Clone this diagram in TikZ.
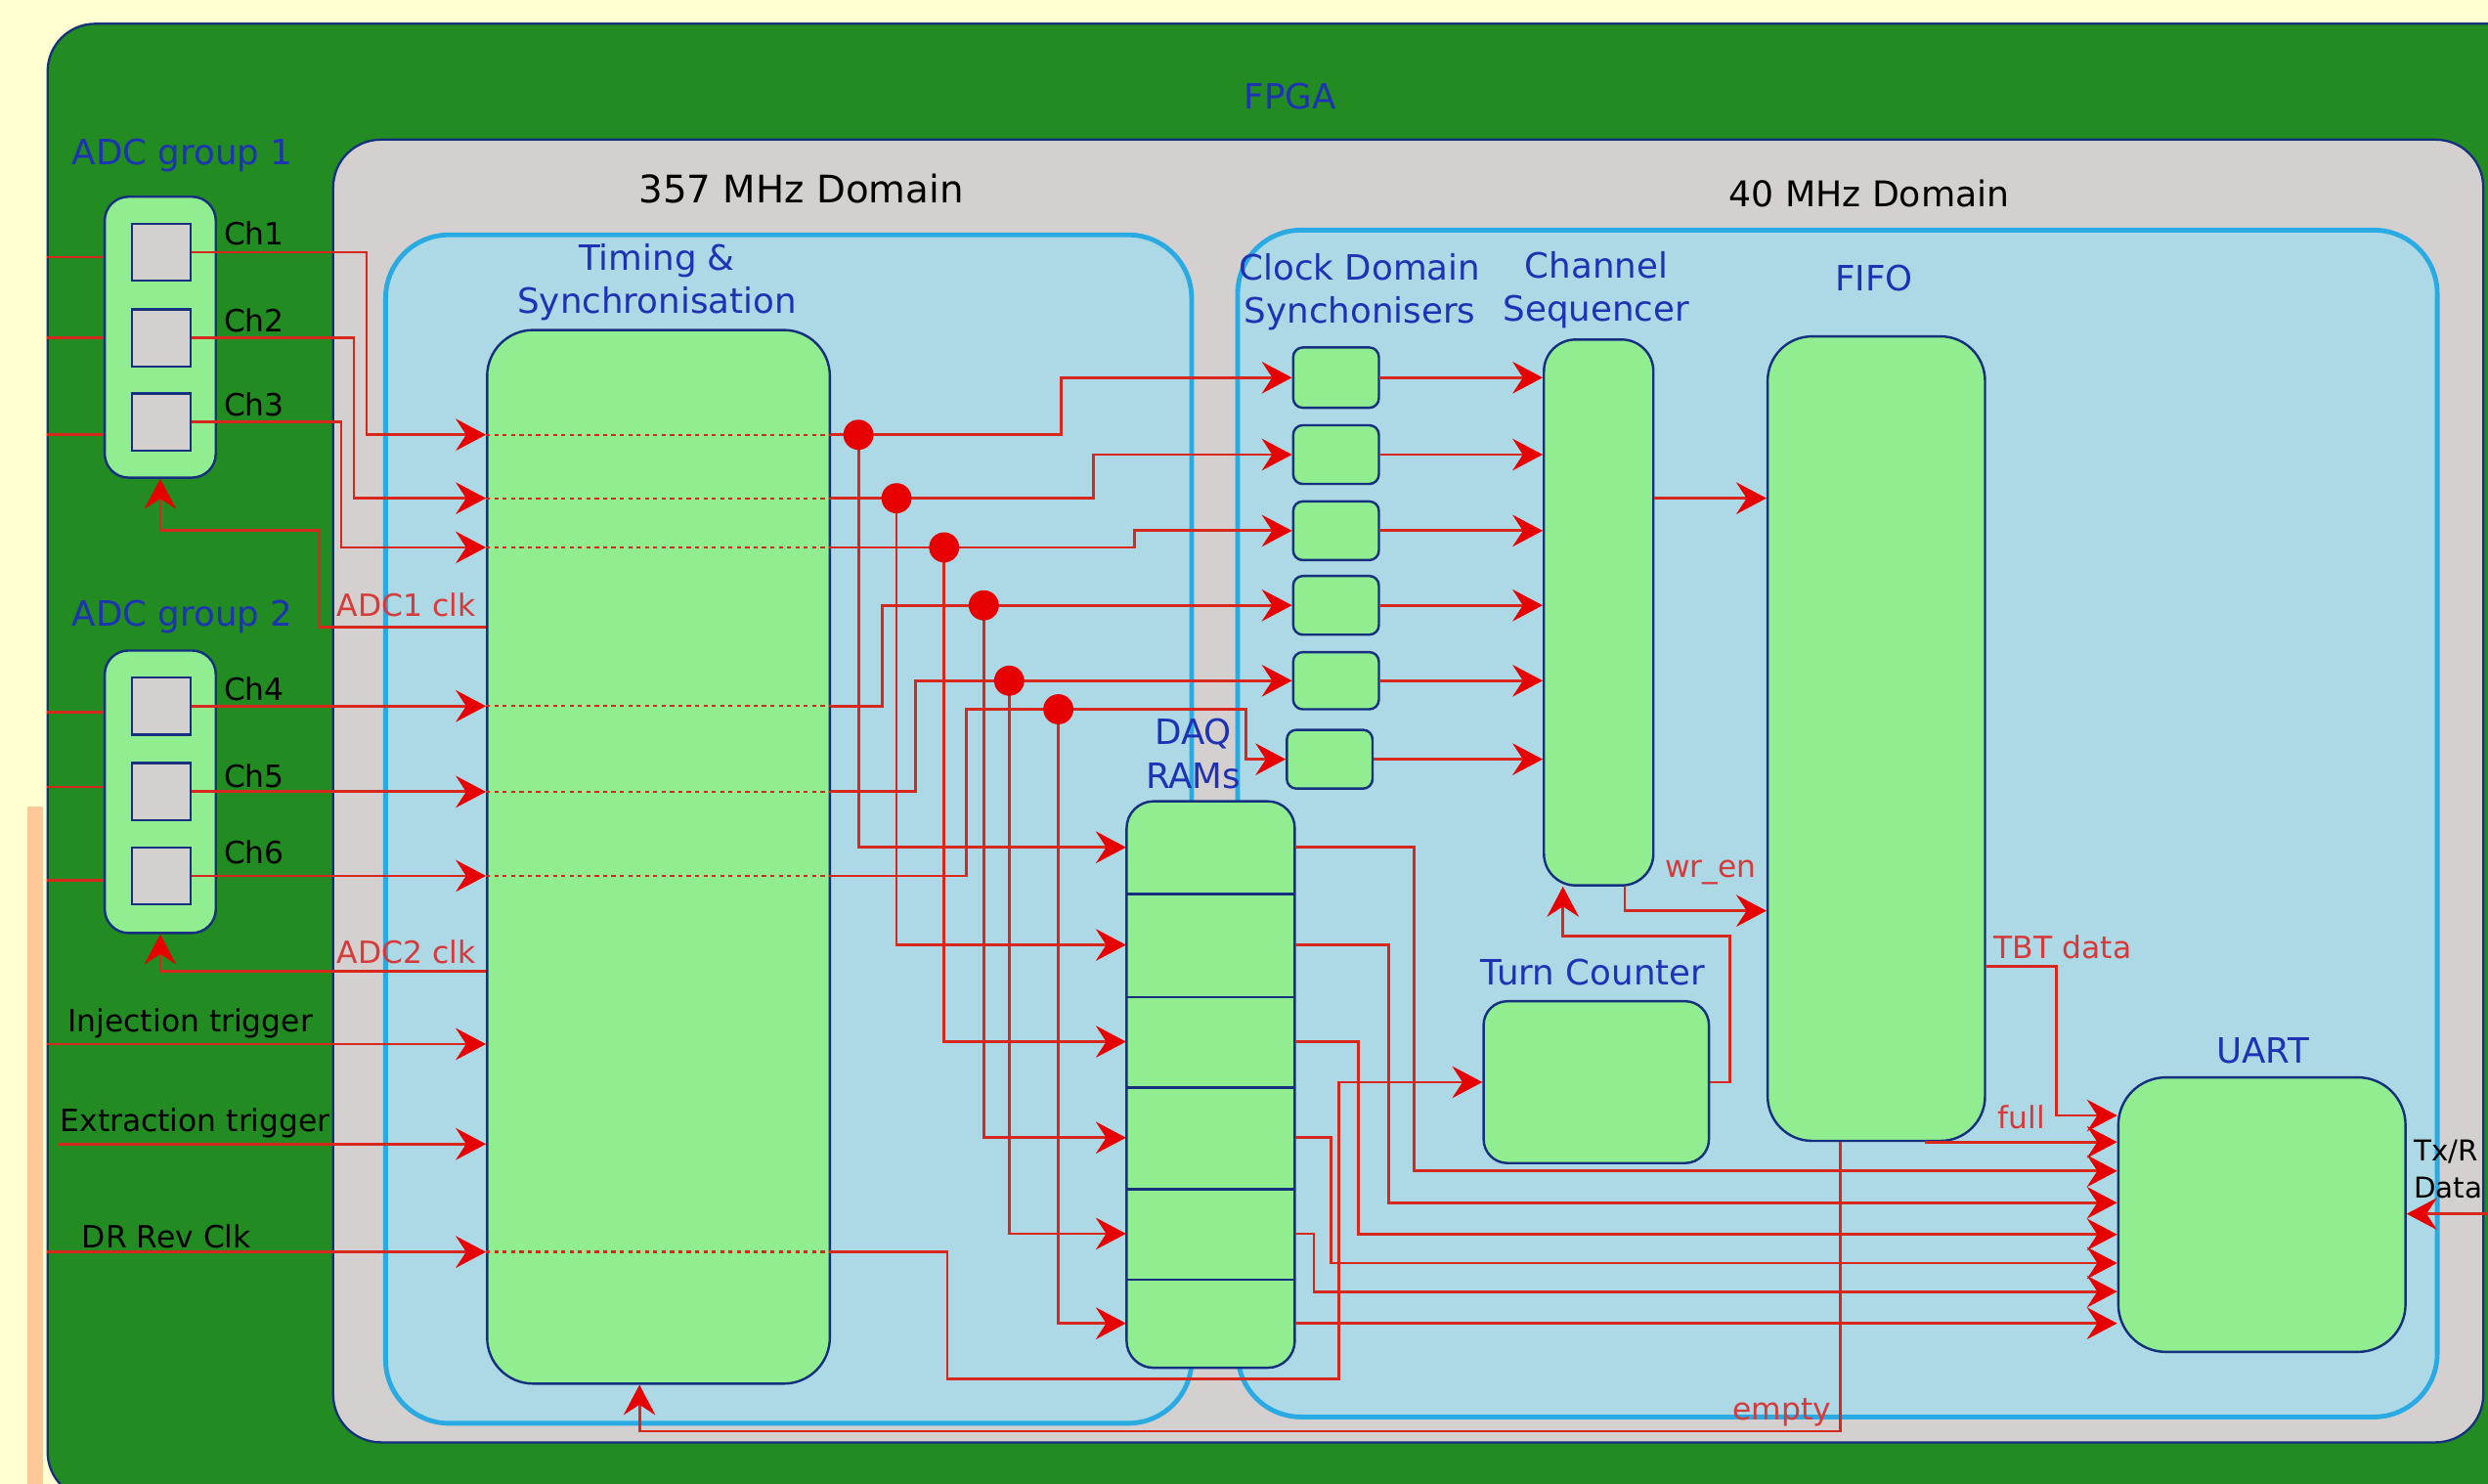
\documentclass[tikz,border=0pt]{standalone}
\usepackage{fontspec}
\setmainfont{DejaVu Sans}
\usepackage{tikz}
\usetikzlibrary{arrows.meta,fit,calc}
\definecolor{PAGEyellow}{HTML}{FFFFD2}
\definecolor{FPGAgreen}{HTML}{228B22}
\definecolor{DOMgrey}{HTML}{D5D0D0}
\definecolor{BLKblue}{HTML}{ADD8E6}
\definecolor{BLKcyan}{HTML}{2AAAE2}
\definecolor{BOXgreen}{HTML}{90EE90}
\definecolor{EDGEnavy}{HTML}{14307E}
\definecolor{SIGred}{HTML}{D8281E}
\definecolor{TIPred}{HTML}{E60000}
\definecolor{LBLblue}{HTML}{1E32B4}
\definecolor{LBLred}{HTML}{D63A3A}
\definecolor{STRIPorange}{HTML}{FFC896}

\tikzset{
  region/.style={draw=EDGEnavy, line width=0.8pt, inner sep=0pt},
  subdomain/.style={draw=BLKcyan, fill=BLKblue, line width=1.7pt, rounded corners=0.8cm, inner sep=0pt},
  block/.style={draw=EDGEnavy, fill=BOXgreen, line width=0.85pt, inner sep=0pt},
  adcpin/.style={draw=EDGEnavy, fill=DOMgrey, line width=0.85pt, inner sep=0pt},
  sig/.style={draw=SIGred, line width=1pt},
  sigarr/.style={sig, -{Stealth[length=0.38cm, width=0.4cm, inset=0.13cm, color=TIPred]}},
  thru/.style={draw=SIGred, line width=0.8pt, dash pattern=on 1.5pt off 1.5pt},
  junc/.style={circle, fill=TIPred, inner sep=0pt, minimum size=0.38cm},
  bluelbl/.style={text=LBLblue, font=\fontsize{12.5}{15.5}\selectfont, align=center},
  redlbl/.style={text=LBLred, font=\fontsize{11}{13}\selectfont, inner sep=1pt},
  blklbl/.style={text=black, font=\fontsize{11}{13}\selectfont, inner sep=1pt},
}

\begin{document}
\begin{tikzpicture}[x=0.02cm, y=-0.02cm]
  \useasboundingbox (0,0) rectangle (1568,935);
  \clip (0,0) rectangle (1568,935);
  \fill[PAGEyellow] (0,0) rectangle (1568,935);
  \fill[STRIPorange] (17,508) rectangle (27,940);

  % FPGA and clock domains
  \node[region, fill=FPGAgreen, rounded corners=0.6cm, fit={(30,15) (1640,945)}] (fpga) {};
  \node[region, fill=DOMgrey, rounded corners=0.6cm, fit={(210,88) (1565,909)}] (dom) {};
  \node[subdomain, fit={(243,148) (751,897)}] (fastdom) {};
  \node[subdomain, fit={(780,145) (1536,893)}] (slowdom) {};
  \node[bluelbl] (fpgalbl) at (813,61) {FPGA};
  \node[font=\fontsize{13.6}{16}\selectfont] (fastlbl) at (505,119) {357 MHz Domain};
  \node[font=\fontsize{12.7}{15}\selectfont] (slowlbl) at (1178,122) {40 MHz Domain};

  % ADC groups
  \node[bluelbl] (adcalbl) at (115,98) {ADC group 1};
  \node[bluelbl] (adcblbl) at (115,389) {ADC group 2};
  \node[block, rounded corners=0.3cm, fit={(66,124) (136,301)}] (adca) {};
  \node[block, rounded corners=0.3cm, fit={(66,410) (136,588)}] (adcb) {};
  \foreach \k/\ya/\yl in {1/141/147, 2/195/202, 3/248/255, 4/427/434, 5/481/489, 6/534/537} {
    \node[adcpin, fit={(83,\ya) (120,\ya+36)}] (ch\k) {};
    \node[blklbl, anchor=west] (chlbl\k) at (139,\yl) {Ch\k};
  }

  % blocks
  \node[block, rounded corners=0.58cm, fit={(307,208) (523,872)}] (ts) {};
  \node[bluelbl] (tslbl) at (414,178) {Timing \&\\Synchronisation};
  \foreach \k/\xa/\ya/\yb in {1/815/219/257, 2/815/268/305, 3/815/316/353, 4/815/363/400, 5/815/411/447, 6/811/460/497}
    \node[block, rounded corners=0.12cm, fit={(\xa,\ya) (\xa+54,\yb)}] (cds\k) {};
  \node[bluelbl] (cdslbl) at (857,184) {Clock Domain\\Synchonisers};
  \node[block, rounded corners=0.4cm, fit={(973,214) (1042,558)}] (cs) {};
  \node[bluelbl] (cslbl) at (1006,183) {Channel\\Sequencer};
  \node[block, rounded corners=0.56cm, fit={(1114,212) (1251,719)}] (fifo) {};
  \node[bluelbl] (fifolbl) at (1181,175) {FIFO};
  \node[block, rounded corners=0.34cm, fit={(710,505) (816,862)}] (ram) {};
  \node[bluelbl] (ramlbl) at (752,475) {DAQ\\RAMs};
  \foreach \k/\ya/\yb in {1/505/563, 2/563/628, 3/628/685, 4/685/749, 5/749/806, 6/806/862}
    \node[inner sep=0pt, fit={(710,\ya) (816,\yb)}] (r\k) {};
  \foreach \k in {1,...,5}
    \draw[draw=EDGEnavy, line width=0.9pt] (r\k.south west) -- (r\k.south east);
  \node[block, rounded corners=0.3cm, fit={(935,631) (1077,733)}] (tc) {};
  \node[bluelbl] (tclbl) at (1004,613) {Turn Counter};
  \node[block, rounded corners=0.6cm, fit={(1335,679) (1516,852)}] (uart) {};
  \node[bluelbl] (uartlbl) at (1426,662) {UART};

  % inputs from outside
  \foreach \k/\yy in {1/162, 2/213, 3/274}
    \draw[sig] (fpga.west |- 0,\yy) -- (adca.west |- 0,\yy);
  \foreach \k/\yy in {4/449, 5/496, 6/555}
    \draw[sig] (fpga.west |- 0,\yy) -- (adcb.west |- 0,\yy);
  \coordinate (extin) at (37,721);
  \draw[sigarr] (fpga.west |- 0,658) -- (ts.west |- 0,658);
  \draw[sigarr] (extin) -- (ts.west |- extin);
  \draw[sigarr] (fpga.west |- 0,789) -- (ts.west |- 0,789);
  \node[blklbl] (injlbl) at (120,645) {Injection trigger};
  \node[blklbl] (extlbl) at (123,708) {Extraction trigger};
  \node[blklbl] (drlbl) at (105,779) {DR Rev Clk};

  % channels into timing block
  \draw[sigarr] (ch1.east) -| (231,274) -- (ts.west |- 0,274);
  \draw[sigarr] (ch2.east) -| (223,314) -- (ts.west |- 0,314);
  \draw[sigarr] (ch3.east) -| (215,345) -- (ts.west |- 0,345);
  \foreach \k in {4,5,6}
    \draw[sigarr] (ch\k.east) -- (ts.west |- ch\k.east);
  \foreach \yy in {274,314,345,445,499,552,789}
    \draw[thru] (ts.west |- 0,\yy) -- (ts.east |- 0,\yy);

  % ADC clocks
  \draw[sigarr] (ts.west |- 0,395) -| (201,334) -| (adca.south);
  \draw[sigarr] (ts.west |- 0,612) -| (adcb.south);
  \node[redlbl] (clkalbl) at (256,381) {ADC1 clk};
  \node[redlbl] (clkblbl) at (256,600) {ADC2 clk};

  % to clock domain synchronisers
  \coordinate (j1) at (541,274);
  \coordinate (j2) at (565,314);
  \coordinate (j3) at (595,345);
  \coordinate (j4) at (620,381.5);
  \coordinate (j5) at (636,429);
  \coordinate (j6) at (667,447);
  \draw[sigarr] (ts.east |- j1) -- (669,274) |- (cds1.west);
  \draw[sigarr] (ts.east |- j2) -- (689,314) |- (cds2.west);
  \draw[sigarr] (ts.east |- j3) -- (715,345) |- (cds3.west);
  \draw[sigarr] (ts.east |- 0,445) -- (556,445) |- (cds4.west);
  \draw[sigarr] (ts.east |- 0,499) -- (577,499) |- (cds5.west);
  \draw[sigarr] (ts.east |- 0,552) -- (609,552) |- (785,447) |- (cds6.west);

  % to DAQ RAMs
  \foreach \k in {1,...,6} {
    \draw[sigarr] (j\k) |- (r\k.west);
    \node[junc] (dot\k) at (j\k) {};
  }

  % 40 MHz side
  \foreach \k in {1,...,6}
    \draw[sigarr] (cds\k.east) -- (cs.west |- cds\k.east);
  \draw[sigarr] (cs.east |- 0,314) -- (fifo.west |- 0,314);
  \draw[sigarr] (cs.south -| 1024,0) |- (fifo.west |- 0,574);
  \node[redlbl] (wrlbl) at (1078,550) {wr\_en};
  \draw[sigarr] (ts.east |- 0,789) -| (597,869) -| (844,682) -- (tc.west);
  \draw[sigarr] (tc.east) -| (1090,590) -| (cs.south -| 985,0);

  % into UART
  \draw[sigarr] (r1.east) -| (891,738) -- (uart.west |- 0,738);
  \draw[sigarr] (r2.east) -| (875,758) -- (uart.west |- 0,758);
  \draw[sigarr] (r3.east) -| (856,778) -- (uart.west |- 0,778);
  \draw[sigarr] (r4.east) -| (839,796) -- (uart.west |- 0,796);
  \draw[sigarr] (r5.east) -| (828,814) -- (uart.west |- 0,814);
  \draw[sigarr] (r6.east) -- (uart.west |- r6.east);
  \draw[sigarr] (fifo.east |- 0,609) -| (1296,703) -- (uart.west |- 0,703);
  \node[redlbl] (tbtlbl) at (1300,597) {TBT data};
  \draw[sigarr] (fifo.south -| 1213,0) -- (uart.west |- fifo.south);
  \node[redlbl] (fulllbl) at (1274,704) {full};
  \draw[sigarr] (fifo.south -| 1160,0) -- (1160,902) -| (ts.south -| 403,0);
  \node[redlbl] (emptylbl) at (1123,890) {empty};
  \draw[sigarr] (fpga.east |- 0,765) -- (uart.east |- 0,765);
  \node[blklbl, anchor=west, align=left, inner sep=0pt, font=\fontsize{10.3}{13.5}\selectfont] (txlbl) at (1521,737) {Tx/R\\Data};
\end{tikzpicture}
\end{document}
